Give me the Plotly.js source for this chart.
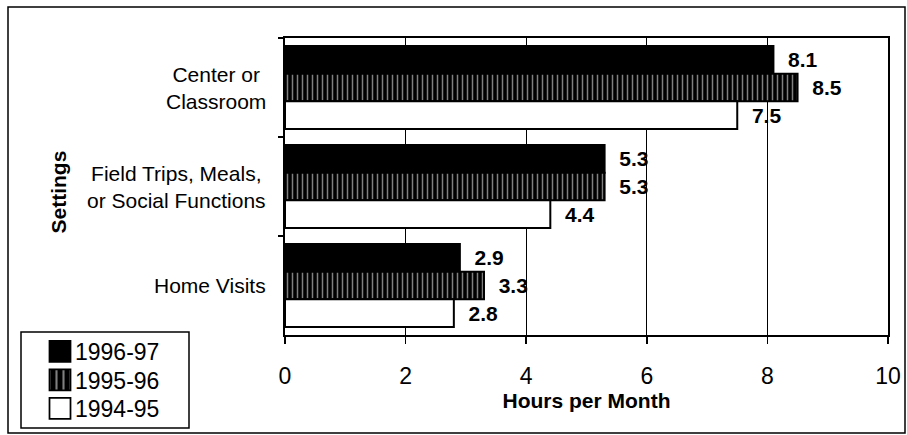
<!DOCTYPE html>
<html>
<head>
<meta charset="utf-8">
<script src="https://cdn.plot.ly/plotly-3.0.1.min.js"></script>
<style>html,body{margin:0;padding:0;background:#fff;}</style>
</head>
<body>
<div id="chart" style="width:907px;height:435px;"></div>
<script>
const categories = ["Center or<br>Classroom", "Field Trips, Meals,<br>or Social Functions", "Home Visits"];
const seriesNames = ["1996-97", "1995-96", "1994-95"];
const values9697 = [8.1, 5.3, 2.9];
const values9596 = [8.5, 5.3, 3.3];
const values9495 = [7.5, 4.4, 2.8];
const xTicks = [0, 2, 4, 6, 8, 10];

const W = 907, H = 435;
const M = {l: 285, r: 19, t: 38, b: 100, autoexpand: false};
const pw = W - M.l - M.r, ph = H - M.t - M.b;
const px = v => (v - M.l) / pw;
const py = v => (H - M.b - v) / ph;

const FONT = "Liberation Sans, Arial, sans-serif";
const NB = '\u00a0\u00a0';
const common = {
  type: 'bar', orientation: 'h', y: categories,
  textposition: 'outside', cliponaxis: false,
  texttemplate: NB + '%{x:.1f}',
  textfont: {family: FONT, size: 21, color: '#000', weight: 'bold'},
  hoverinfo: 'none'
};
const traces = [
  Object.assign({}, common, {name: seriesNames[0], x: values9697,
    marker: {color: '#000', line: {color: '#000', width: 2}}}),
  Object.assign({}, common, {name: seriesNames[1], x: values9596,
    marker: {color: '#000', line: {color: '#000', width: 2},
      pattern: {shape: '|', bgcolor: '#000', fgcolor: '#fff', size: 5, solidity: 0.3, fillmode: 'overlay'}}}),
  Object.assign({}, common, {name: seriesNames[2], x: values9495,
    marker: {color: '#fff', line: {color: '#000', width: 2}}})
];

const catAnnotations = categories.map(c => ({
  text: c, xref: 'paper', yref: 'y', x: px(268), y: c,
  xanchor: 'right', yanchor: 'middle', align: 'center', showarrow: false,
  font: {family: FONT, size: 21, color: '#000'}
}));

const layout = {
  width: W, height: H,
  margin: M,
  paper_bgcolor: '#fff', plot_bgcolor: '#fff',
  barmode: 'group', bargap: 0.16, bargroupgap: 0,
  font: {family: FONT, color: '#000', size: 21},
  showlegend: true,
  legend: {
    x: px(35), y: py(334), xanchor: 'left', yanchor: 'top',
    borderwidth: 0, bgcolor: 'rgba(0,0,0,0)',
    font: {family: FONT, size: 23, color: '#000'},
    traceorder: 'normal', itemwidth: 30, tracegroupgap: 0
  },
  xaxis: {
    range: [0, 10], tickvals: xTicks, ticktext: xTicks.map(String),
    showgrid: true, gridcolor: '#000', gridwidth: 1,
    showline: true, linecolor: '#000', linewidth: 2, mirror: true,
    ticks: 'outside', ticklen: 7, tickcolor: '#000', tickwidth: 1.5,
    ticklabelstandoff: 12,
    tickfont: {family: FONT, size: 23, color: '#000'},
    zeroline: false, fixedrange: true,
    title: {text: 'Hours per Month', font: {family: FONT, size: 21, color: '#000', weight: 'bold'}, standoff: 0}
  },
  yaxis: {
    type: 'category', autorange: 'reversed',
    showline: true, linecolor: '#000', linewidth: 2, mirror: true,
    ticks: 'outside', tickson: 'boundaries', ticklen: 5, tickcolor: '#000', tickwidth: 1.5,
    showgrid: false, showticklabels: false,
    fixedrange: true
  },
  annotations: catAnnotations.concat([{
    text: 'Settings', xref: 'paper', yref: 'paper', x: px(44), y: py(192),
    showarrow: false, textangle: -90,
    font: {family: FONT, size: 21, color: '#000', weight: 'bold'}
  }]),
  shapes: [{
    type: 'rect', xref: 'paper', yref: 'paper',
    x0: px(8), x1: px(905), y0: py(433), y1: py(7),
    line: {color: '#000', width: 1.5}, fillcolor: 'rgba(0,0,0,0)', layer: 'below'
  }, {
    type: 'rect', xref: 'paper', yref: 'paper',
    x0: px(21), x1: px(189), y0: py(428), y1: py(332),
    line: {color: '#000', width: 1.5}, fillcolor: '#fff', layer: 'below'
  }]
};

Plotly.newPlot('chart', traces, layout, {staticPlot: true, displayModeBar: false}).then(gd => {
  gd.querySelectorAll('.legend .legendpoints path').forEach(p => {
    p.setAttribute('transform', 'translate(25,0) scale(1.75)');
    p.style.strokeWidth = '1px';
  });
  const items = gd.querySelectorAll('.legend .traces');
  let y0 = null;
  items.forEach((g, i) => {
    const m = /translate\(([-\d.]+)[ ,]+([-\d.]+)\)/.exec(g.getAttribute('transform') || '');
    if (!m) return;
    const tx = parseFloat(m[1]);
    if (y0 === null) y0 = parseFloat(m[2]) - 4;
    g.setAttribute('transform', 'translate(' + tx + ',' + (y0 + 28.5 * i) + ')');
  });
});
</script>
</body>
</html>
